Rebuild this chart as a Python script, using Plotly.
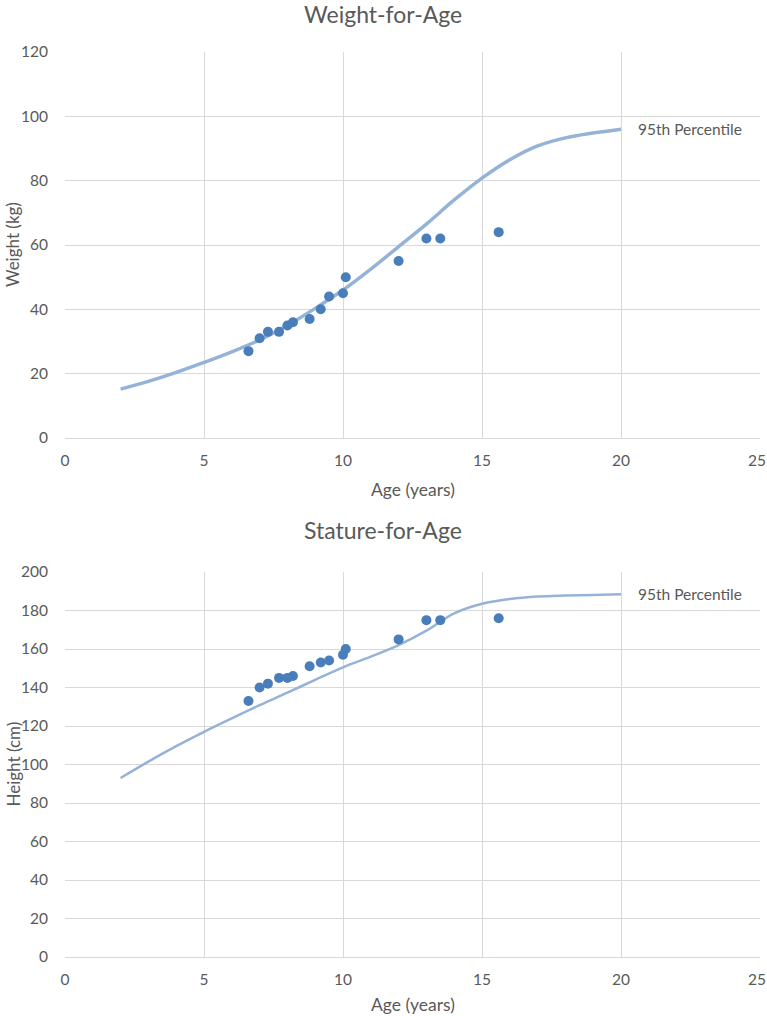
import plotly.graph_objects as go

# Patient observations
ages = [6.6, 7.0, 7.3, 7.7, 8.0, 8.2, 8.8, 9.2, 9.5, 10.0, 10.1, 12.0, 13.0, 13.5, 15.6]
weights = [27, 31, 33, 33, 35, 36, 37, 40, 44, 45, 50, 55, 62, 62, 64]
heights = [133, 140, 142, 145, 145, 146, 151, 153, 154, 157, 160, 165, 175, 175, 176]

# 95th percentile reference curves
pct_ages = [2, 3, 4, 5, 6, 7, 8, 9, 10, 11, 12, 13, 14, 15, 16, 17, 18, 19, 20]
pct_weight = [15.2, 17.6, 20.4, 23.5, 26.8, 30.5, 35.0, 40.3, 46.0, 52.5, 59.5, 66.5, 74.0, 80.8, 86.5, 90.8, 93.3, 94.8, 96.0]
pct_height = [93.0, 101.5, 109.5, 117.0, 124.0, 130.8, 137.3, 144.0, 150.5, 156.0, 162.0, 169.5, 178.5, 183.5, 186.0, 187.3, 187.8, 188.1, 188.4]

x_ticks = [0, 5, 10, 15, 20, 25]
x_ticktext = ["0", "5", "10", "15", "20", ""]
last_x_tick = "25"
pct_label = "95th Percentile"
titles = ["Weight-for-Age", "Stature-for-Age"]
x_title = "Age (years)"
y_titles = ["Weight (kg)", "Height (cm)"]

W, H = 767, 1016
# plot area in page pixels
SX0, SX1 = 65, 760
SY0, SY1 = 52, 957
L, R = SX0, W - SX1
T, B = SY0, H - SY1
PW, PH = W - L - R, H - T - B
FONT = "Lato, Calibri, Carlito, sans-serif"
GRAY = "#595959"
GRID = "#D9D9D9"
DOT = "#4A7EBB"
LINE = "#95B3D7"


def px_x(p):
    return (p - SX0) / PW


def px_y(p):
    return (SY1 - p) / PH


areas = [(52, 438), (572, 957)]

fig = go.Figure()
fig.add_trace(go.Scatter(x=pct_ages, y=pct_weight, mode="lines",
                         line=dict(color=LINE, width=3.5, shape="spline"),
                         xaxis="x", yaxis="y", hoverinfo="skip"))
fig.add_trace(go.Scatter(x=ages, y=weights, mode="markers", marker=dict(color=DOT, size=10),
                         xaxis="x", yaxis="y"))
fig.add_trace(go.Scatter(x=pct_ages, y=pct_height, mode="lines",
                         line=dict(color=LINE, width=2.5, shape="spline"),
                         xaxis="x2", yaxis="y2", hoverinfo="skip"))
fig.add_trace(go.Scatter(x=ages, y=heights, mode="markers", marker=dict(color=DOT, size=10),
                         xaxis="x2", yaxis="y2"))

axis_common = dict(showgrid=True, gridcolor=GRID, gridwidth=1, zeroline=False,
                   tickfont=dict(family=FONT, size=15.5, color=GRAY), showline=False,
                   ticks="", automargin=False)

xaxis_cfg = dict(axis_common, range=[0, 25], tickvals=x_ticks, ticktext=x_ticktext, domain=[0, 1],
                 ticklabelstandoff=8, showline=True, linecolor=GRID, linewidth=1)

fig.update_layout(
    template="none",
    width=W, height=H, margin=dict(l=L, r=R, t=T, b=B, pad=0),
    paper_bgcolor="white", plot_bgcolor="white", showlegend=False,
    xaxis=dict(xaxis_cfg, anchor="y"),
    yaxis=dict(axis_common, range=[0, 120], dtick=20,
               domain=[px_y(areas[0][1]), px_y(areas[0][0])], anchor="x", ticklabelstandoff=16),
    xaxis2=dict(xaxis_cfg, anchor="y2"),
    yaxis2=dict(axis_common, range=[0, 200], dtick=20,
                domain=[px_y(areas[1][1]), px_y(areas[1][0])], anchor="x2", ticklabelstandoff=16),
)

annots = []
title_y = [14, 530]
xt_y = [489, 1004]
for i in range(2):
    annots.append(dict(text=titles[i], x=px_x(383), y=px_y(title_y[i]), xref="paper", yref="paper",
                       xanchor="center", yanchor="middle", showarrow=False,
                       font=dict(family=FONT, size=23, color=GRAY)))
    annots.append(dict(text=x_title, x=px_x(413), y=px_y(xt_y[i]), xref="paper", yref="paper",
                       xanchor="center", yanchor="middle", showarrow=False,
                       font=dict(family=FONT, size=17.5, color=GRAY)))
    annots.append(dict(text=y_titles[i], x=px_x(13), y=px_y((areas[i][0] + areas[i][1]) / 2),
                       xref="paper", yref="paper", textangle=-90,
                       xanchor="center", yanchor="middle", showarrow=False,
                       font=dict(family=FONT, size=17, color=GRAY)))
    # last x tick label, kept inside the page edge
    annots.append(dict(text=last_x_tick, x=x_ticks[-1], y=px_y(areas[i][1] + 22),
                       xref="x" if i == 0 else "x2", yref="paper",
                       xanchor="center", yanchor="middle", xshift=-3, showarrow=False,
                       font=dict(family=FONT, size=15.5, color=GRAY)))
annots.append(dict(text=pct_label, x=pct_ages[-1], y=pct_weight[-1], xref="x", yref="y",
                   xanchor="left", yanchor="middle", xshift=15, showarrow=False,
                   font=dict(family=FONT, size=15.5, color=GRAY)))
annots.append(dict(text=pct_label, x=pct_ages[-1], y=pct_height[-1], xref="x2", yref="y2",
                   xanchor="left", yanchor="middle", xshift=15, showarrow=False,
                   font=dict(family=FONT, size=15.5, color=GRAY)))
fig.update_layout(annotations=annots)

fig.write_html("out.html", config={"displayModeBar": False},
               post_script="document.body.style.margin='0px';document.body.style.overflow='hidden';")
